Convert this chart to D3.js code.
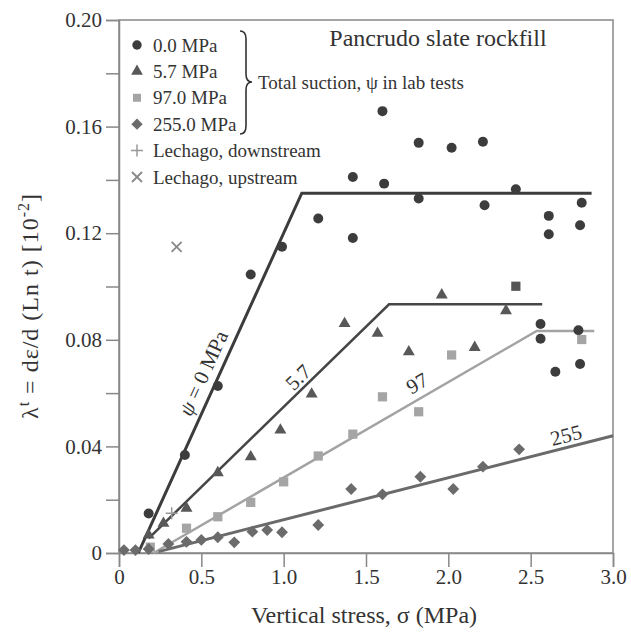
<!DOCTYPE html>
<html>
  <head>
    <meta charset="utf-8">
    <title>Pancrudo slate rockfill</title>
    <script src="https://d3js.org/d3.v7.min.js"></script>
    <style>
      body { margin: 0; background: white; }
      svg text { font-family: "Liberation Serif", "DejaVu Serif", serif; fill: #333; }
    </style>
  </head>
  <body>
    <svg id="chart" width="631" height="635"></svg>
    <script>
      // data: [vertical stress (MPa), lambda^t (10^-2)]
      const suction0 = [
        [0.18, 0.0148], [0.40, 0.0368], [0.60, 0.0627], [0.80, 0.1045], [0.99, 0.1149],
        [1.21, 0.1255], [1.42, 0.1182], [1.42, 0.1411], [1.60, 0.1658], [1.61, 0.1386],
        [1.82, 0.1539], [1.82, 0.1330], [2.02, 0.1521], [2.21, 0.1543], [2.22, 0.1305],
        [2.41, 0.1365], [2.61, 0.1265], [2.61, 0.1196], [2.81, 0.1314], [2.80, 0.1230],
        [2.56, 0.0859], [2.56, 0.0804], [2.79, 0.0836], [2.65, 0.0680], [2.80, 0.0709]
      ];
      const suction57 = [
        [0.18, 0.0067], [0.27, 0.0111], [0.41, 0.0168], [0.60, 0.0301], [0.80, 0.0361],
        [0.98, 0.0461], [1.17, 0.0596], [1.37, 0.0861], [1.57, 0.0824], [1.76, 0.0755],
        [1.96, 0.0968], [2.16, 0.0771], [2.35, 0.0909]
      ];
      const suction97 = [
        [0.19, 0.0022], [0.41, 0.0093], [0.60, 0.0136], [0.80, 0.0190], [1.00, 0.0267],
        [1.21, 0.0364], [1.42, 0.0446], [1.60, 0.0586], [1.82, 0.0530], [2.02, 0.0743],
        [2.81, 0.0801]
      ];
      const suction97dark = [[2.41, 0.1001]];
      const suction255 = [
        [0.03, 0.0011], [0.10, 0.0011], [0.18, 0.0015], [0.30, 0.0034], [0.41, 0.0042],
        [0.50, 0.0049], [0.60, 0.0059], [0.70, 0.0040], [0.81, 0.0080], [0.90, 0.0086],
        [0.99, 0.0078], [1.21, 0.0105], [1.41, 0.0240], [1.60, 0.0220], [1.83, 0.0286],
        [2.03, 0.0240], [2.21, 0.0324], [2.43, 0.0389]
      ];
      const lechagoDown = [[0.32, 0.0149]];
      const lechagoUp = [[0.35, 0.1149]];
      // fitted lines
      const fit0 = [[0.117, 0], [1.11, 0.135], [2.87, 0.135]];
      const fit57 = [[0.18, 0.0055], [1.64, 0.0933], [2.57, 0.0933]];
      const fit97 = [[0.21, 0], [2.536, 0.0833], [2.886, 0.0833]];
      const fit255 = [[0.24, 0.0005], [3.0, 0.044]];
      // tick labels
      const xTicks = [0, 0.5, 1.0, 1.5, 2.0, 2.5, 3.0];
      const yTicks = [0, 0.04, 0.08, 0.12, 0.16, 0.20];
      const yMinorTicks = [0.02, 0.06, 0.10, 0.14, 0.18];
      const legendLabels = ["0.0 MPa", "5.7 MPa", "97.0 MPa", "255.0 MPa", "Lechago, downstream", "Lechago, upstream"];

      svg = d3.select("#chart");
      x = d3.scaleLinear().domain([0, 3]).range([119, 613]);
      y = d3.scaleLinear().domain([0, 0.2]).range([553, 20]);

      // frame
      svg.append("rect")
        .attr("x", x(0)).attr("y", y(0.2))
        .attr("width", x(3) - x(0)).attr("height", y(0) - y(0.2))
        .attr("fill", "none").attr("stroke", "#888").attr("stroke-width", 1.5);

      // axes
      xAxis = svg.append("g")
        .attr("transform", "translate(0," + y(0) + ")")
        .call(d3.axisBottom(x).tickValues(xTicks).tickSize(14).tickPadding(2)
          .tickFormat(function(d) { return d === 0 ? "0" : d3.format(".1f")(d); }));
      yAxis = svg.append("g")
        .attr("transform", "translate(" + x(0) + ",0)")
        .call(d3.axisLeft(y).tickValues(yTicks.concat(yMinorTicks)).tickSize(13).tickPadding(4)
          .tickFormat(function(d) {
            if (yMinorTicks.indexOf(d) >= 0) return "";
            return d === 0 ? "0" : d3.format(".2f")(d);
          }));
      svg.selectAll(".domain, .tick line").attr("stroke", "#888").attr("stroke-width", 1.5);
      svg.selectAll(".tick text")
        .style("font-family", "Liberation Serif, serif")
        .style("font-size", "21px")
        .attr("fill", "#333");

      // axis titles
      svg.append("text")
        .attr("x", 364).attr("y", 623)
        .attr("text-anchor", "middle")
        .style("font-size", "24px")
        .text("Vertical stress, σ (MPa)");
      yLabel = svg.append("text")
        .attr("transform", "translate(38,306) rotate(-90)")
        .attr("text-anchor", "middle")
        .style("font-size", "24px")
        .style("letter-spacing", "1px");
      yLabel.append("tspan").text("λ");
      yLabel.append("tspan").attr("dy", -9).style("font-size", "16px").text("t");
      yLabel.append("tspan").attr("dy", 9).text(" = dε/d (Ln t) [10");
      yLabel.append("tspan").attr("dy", -9).style("font-size", "16px").text("-2");
      yLabel.append("tspan").attr("dy", 9).text("]");

      // fitted lines
      line = d3.line().x(function(d) { return x(d[0]); }).y(function(d) { return y(d[1]); });
      fits = [
        { data: fit0, color: "#3c3c3c", width: 3 },
        { data: fit57, color: "#464646", width: 2.5 },
        { data: fit97, color: "#a3a3a3", width: 2.5 },
        { data: fit255, color: "#6a6a6a", width: 3 }
      ];
      svg.append("g").selectAll("path")
          .data(fits)
        .enter().append("path")
          .attr("d", function(d) { return line(d.data); })
          .attr("fill", "none")
          .attr("stroke", function(d) { return d.color; })
          .attr("stroke-width", function(d) { return d.width; });

      // line labels, rotated along the first segment of each line
      function angleOf(pts) {
        return Math.atan2(y(pts[1][1]) - y(pts[0][1]), x(pts[1][0]) - x(pts[0][0])) * 180 / Math.PI;
      }
      lineLabels = [
        { pos: [203, 373], angle: angleOf(fit0), italic: "ψ", text: " = 0 MPa" },
        { pos: [298, 377], angle: angleOf(fit57), italic: "", text: "5.7" },
        { pos: [417, 383], angle: angleOf(fit97), italic: "", text: "97" },
        { pos: [566, 435], angle: angleOf(fit255), italic: "", text: "255" }
      ];
      lineLabelText = svg.append("g").selectAll("text")
          .data(lineLabels)
        .enter().append("text")
          .attr("transform", function(d) { return "translate(" + d.pos + ") rotate(" + d.angle + ")"; })
          .attr("text-anchor", "middle")
          .attr("dy", "0.35em")
          .style("font-size", "21px");
      lineLabelText.append("tspan")
        .style("font-style", "italic")
        .text(function(d) { return d.italic; });
      lineLabelText.append("tspan")
        .text(function(d) { return d.text; });

      // markers
      symbols = [
        { data: suction0, type: d3.symbolCircle, size: 78, color: "#3c3c3c", rot: 0 },
        { data: suction57, type: d3.symbolTriangle, size: 62, color: "#585858", rot: 0 },
        { data: suction97, type: d3.symbolSquare, size: 85, color: "#a5a5a5", rot: 0 },
        { data: suction97dark, type: d3.symbolSquare, size: 85, color: "#555", rot: 0 },
        { data: suction255, type: d3.symbolSquare, size: 70, color: "#6b6b6b", rot: 45 }
      ];
      symbols.forEach(function(s) {
        svg.append("g").selectAll("path")
            .data(s.data)
          .enter().append("path")
            .attr("transform", function(d) { return "translate(" + x(d[0]) + "," + y(d[1]) + ") rotate(" + s.rot + ")"; })
            .attr("d", d3.symbol().type(s.type).size(s.size))
            .attr("fill", s.color);
      });
      svg.append("g").selectAll("path")
          .data(lechagoDown)
        .enter().append("path")
          .attr("transform", function(d) { return "translate(" + x(d[0]) + "," + y(d[1]) + ")"; })
          .attr("d", "M-6,0H6M0,-6V6")
          .attr("stroke", "#999").attr("stroke-width", 1.5);
      svg.append("g").selectAll("path")
          .data(lechagoUp)
        .enter().append("path")
          .attr("transform", function(d) { return "translate(" + x(d[0]) + "," + y(d[1]) + ")"; })
          .attr("d", "M-5,-5L5,5M-5,5L5,-5")
          .attr("stroke", "#888").attr("stroke-width", 1.8);

      // title
      svg.append("text")
        .attr("x", 438).attr("y", 46)
        .attr("text-anchor", "middle")
        .style("font-size", "24px")
        .text("Pancrudo slate rockfill");

      // legend
      legendSymbols = [
        { type: d3.symbolCircle, size: 70, color: "#3c3c3c", rot: 0 },
        { type: d3.symbolTriangle, size: 60, color: "#585858", rot: 0 },
        { type: d3.symbolSquare, size: 64, color: "#a5a5a5", rot: 0 },
        { type: d3.symbolSquare, size: 64, color: "#6b6b6b", rot: 45 }
      ];
      legend = svg.append("g");
      legendRows = legend.selectAll("g")
          .data(legendLabels)
        .enter().append("g")
          .attr("transform", function(d, i) { return "translate(137," + (45 + i * 26.4) + ")"; });
      legendRows.append("text")
        .attr("x", 16).attr("dy", "0.35em")
        .style("font-size", "19px")
        .text(function(d) { return d; });
      legendRows.filter(function(d, i) { return i < 4; })
        .append("path")
          .attr("transform", function(d, i) { return "rotate(" + legendSymbols[i].rot + ")"; })
          .attr("d", function(d, i) { return d3.symbol().type(legendSymbols[i].type).size(legendSymbols[i].size)(); })
          .attr("fill", function(d, i) { return legendSymbols[i].color; });
      legendRows.filter(function(d, i) { return i === 4; })
        .append("path").attr("d", "M-6,0H6M0,-6V6").attr("stroke", "#999").attr("stroke-width", 1.5);
      legendRows.filter(function(d, i) { return i === 5; })
        .append("path").attr("d", "M-5,-5L5,5M-5,5L5,-5").attr("stroke", "#888").attr("stroke-width", 1.8);
      // brace
      legend.append("path")
        .attr("d", "M240,31 Q246,31 246,39 L246,74 Q246,82 252,82 Q246,82 246,90 L246,126 Q246,134 240,134")
        .attr("fill", "none").attr("stroke", "#333").attr("stroke-width", 1.6);
      legend.append("text")
        .attr("x", 258).attr("y", 82).attr("dy", "0.35em")
        .style("font-size", "19px")
        .text("Total suction, ψ in lab tests");
    </script>
  </body>
</html>
